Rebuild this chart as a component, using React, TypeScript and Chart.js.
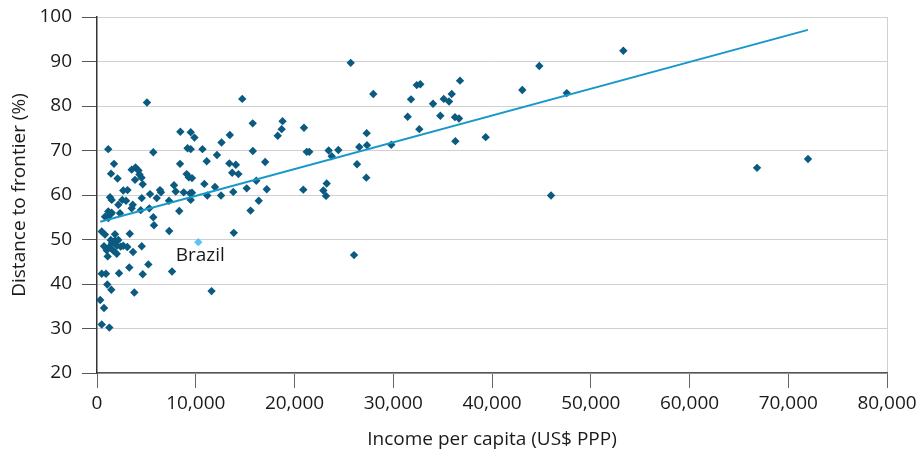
import React, { useEffect, useRef } from "react";
import { Chart, registerables } from "chart.js";

Chart.register(...registerables);

const incomeX: number[] = [
  53300, 44790, 47570, 43070, 45980, 66840, 72000, 36760, 32380, 32740,
  31800, 34030, 35110, 35650, 35920, 31460, 34770, 36250, 36660, 32640,
  39360, 36290, 29800, 25690, 27980, 20960, 27310, 27340, 26560, 21240,
  21500, 23460, 23770, 24440, 26330, 27270, 20890, 23260, 22920, 23190, 26030,
  14710, 15770, 18790, 18700, 18300, 13450, 12610, 9490, 9870, 9490,
  10680, 12150, 15780, 11110, 13400, 14060, 17030, 13690, 14320, 9620,
  16130, 10870, 11950, 15160, 17190, 9620, 13800, 9490, 11170, 12560,
  16380, 15550, 13850, 11600,
  5060, 1140, 5700, 9170, 8440, 1720, 8410, 1420, 2080, 3510,
  3900, 4200, 4300, 4510, 3850, 4630, 9080, 9290, 2660, 3090,
  5370, 6380, 6480, 7800, 7970, 8780, 1320, 1490, 2560, 2940,
  3620, 2160, 4530, 6050, 7290, 9420, 5300, 4430, 3510, 8330,
  1140, 1490, 810, 1140, 1390, 2330, 5700, 5770, 7310, 480,
  810, 1820, 3320, 710, 980, 1250, 1520, 1820, 2000, 2400,
  2660, 3070, 1650, 2000, 1080, 2160, 1390, 3650, 4530, 5200,
  3270, 2230, 480, 910, 4630, 7600, 1040, 1450, 3780, 330,
  710, 480, 1250,
];

const distanceY: number[] = [
  92.4, 89.0, 82.9, 83.6, 59.9, 66.1, 68.1, 85.7, 84.7, 84.9,
  81.5, 80.5, 81.6, 81.0, 82.7, 77.6, 77.8, 77.5, 77.2, 74.8,
  73.0, 72.1, 71.3, 89.7, 82.7, 75.1, 73.9, 71.2, 70.8, 69.7,
  69.7, 70.0, 68.7, 70.1, 66.9, 63.9, 61.2, 62.6, 61.0, 59.8, 46.5,
  81.6, 76.1, 76.6, 74.8, 73.3, 73.5, 71.8, 74.1, 72.9, 70.3,
  70.3, 69.0, 69.9, 67.6, 67.1, 66.8, 67.4, 65.0, 64.7, 63.8,
  63.2, 62.5, 61.8, 61.5, 61.3, 60.5, 60.7, 58.9, 59.9, 59.9,
  58.7, 56.5, 51.5, 38.4,
  80.8, 70.3, 69.6, 70.5, 74.2, 67.0, 67.0, 64.8, 63.7, 65.7,
  66.2, 65.5, 64.6, 63.9, 63.4, 62.4, 64.7, 64.0, 61.0, 61.1,
  60.2, 61.1, 60.6, 62.2, 60.8, 60.6, 59.5, 58.9, 58.9, 58.7,
  57.8, 57.8, 59.3, 59.3, 58.7, 60.4, 57.0, 56.6, 57.0, 56.4,
  56.3, 56.0, 55.1, 54.8, 55.7, 55.9, 55.0, 53.2, 51.9, 51.8,
  51.1, 51.2, 51.3, 48.5, 47.6, 48.3, 49.2, 49.8, 48.6, 48.4,
  48.6, 48.3, 47.5, 46.8, 46.2, 49.9, 49.9, 47.2, 48.5, 44.4,
  43.7, 42.4, 42.3, 42.3, 42.2, 42.8, 39.9, 38.7, 38.1, 36.4,
  34.6, 30.9, 30.2,
];

const brazilLabel = "Brazil";
const brazilX: number[] = [10260];
const brazilY: number[] = [49.4];

const trendX: number[] = [330, 72000];
const trendY: number[] = [54.0, 97.1];

const yTicks: number[] = [20, 30, 40, 50, 60, 70, 80, 90, 100];
const xTicks: number[] = [0, 10000, 20000, 30000, 40000, 50000, 60000, 70000, 80000];

const xTitle = "Income per capita (US$ PPP)";
const yTitle = "Distance to frontier (%)";

const FONT = "'Open Sans', 'Noto Sans', sans-serif";
const FS = 19;

export default function App() {
  const ref = useRef<HTMLCanvasElement | null>(null);

  useEffect(() => {
    if (!ref.current) return;
    const labelPlugin = {
      id: "brazilLabel",
      afterDatasetsDraw(chart: any) {
        const meta = chart.getDatasetMeta(1);
        const el = meta.data[0];
        if (!el) return;
        const ctx = chart.ctx;
        ctx.save();
        ctx.font = `${FS}px ${FONT}`;
        ctx.fillStyle = "#1a1a1a";
        ctx.textAlign = "center";
        ctx.textBaseline = "middle";
        ctx.fillText(brazilLabel, el.x + 2, el.y + 13);
        ctx.restore();
      },
    };
    const chart = new Chart(ref.current, {
      type: "scatter",
      data: {
        datasets: [
          {
            label: "Countries",
            data: incomeX.map((x, i) => ({ x, y: distanceY[i] })),
            backgroundColor: "#0b5a80",
            borderColor: "#0b5a80",
            pointStyle: "rectRot",
            pointRadius: 4.2,
            borderWidth: 0,
            order: 2,
          },
          {
            label: brazilLabel,
            data: brazilX.map((x, i) => ({ x, y: brazilY[i] })),
            backgroundColor: "#5cc3ee",
            borderColor: "#5cc3ee",
            pointStyle: "rectRot",
            pointRadius: 4.2,
            borderWidth: 0,
            order: 1,
          },
          {
            type: "line",
            label: "Trend",
            data: trendX.map((x, i) => ({ x, y: trendY[i] })),
            borderColor: "#1798c9",
            borderWidth: 2,
            pointRadius: 0,
            fill: false,
            order: 0,
          } as any,
        ],
      },
      options: {
        animation: false,
        responsive: true,
        maintainAspectRatio: false,
        layout: { padding: 0 },
        plugins: {
          legend: { display: false },
          tooltip: { enabled: false },
        },
        scales: {
          x: {
            type: "linear",
            min: 0,
            max: 80000,
            afterBuildTicks: (scale: any) => {
              scale.ticks = xTicks.map((v) => ({ value: v }));
            },
            afterFit: (scale: any) => {
              scale.height = 80;
              scale.paddingLeft = 0;
              scale.paddingRight = 32;
            },
            ticks: {
              color: "#1a1a1a",
              font: { family: FONT, size: FS },
              padding: 4,
              maxRotation: 0,
              callback: (v: any) => Number(v).toLocaleString("en-US"),
            },
            grid: {
              drawOnChartArea: true,
              color: (c: any) => (c.tick && c.tick.value === 80000 ? "#d0d0d0" : "rgba(0,0,0,0)"),
              tickColor: "#666",
              tickLength: 15,
              lineWidth: 1,
            },
            border: { color: "#555", width: 1.5 },
            title: {
              display: true,
              text: xTitle,
              color: "#1a1a1a",
              font: { family: FONT, size: FS },
              padding: { top: 4, bottom: 2 },
            },
          },
          y: {
            type: "linear",
            min: 20,
            max: 100,
            afterBuildTicks: (scale: any) => {
              scale.ticks = yTicks.map((v) => ({ value: v }));
            },
            afterFit: (scale: any) => {
              scale.width = 89;
              scale.paddingTop = 9;
              scale.paddingBottom = 0;
            },
            ticks: {
              color: "#1a1a1a",
              font: { family: FONT, size: FS },
              padding: 10,
            },
            grid: {
              color: "#d0d0d0",
              tickColor: "#555",
              tickLength: 15,
              lineWidth: 1,
            },
            border: { color: "#333", width: 1.5 },
            title: {
              display: true,
              text: yTitle,
              color: "#1a1a1a",
              font: { family: FONT, size: FS },
              padding: { top: 0, bottom: 0 },
            },
          },
        },
      },
      plugins: [labelPlugin],
    });
    return () => chart.destroy();
  }, []);

  return (
    <div style={{ position: "absolute", left: 8, top: 8, width: 911, height: 445 }}>
      <canvas ref={ref} />
    </div>
  );
}
